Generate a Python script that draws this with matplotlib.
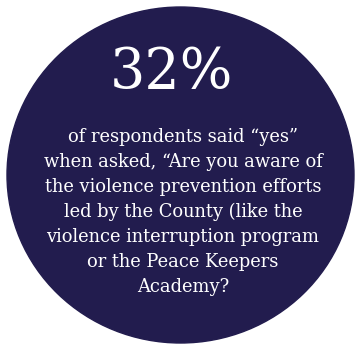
import matplotlib
matplotlib.use("Agg")
import matplotlib.pyplot as plt
from matplotlib.patches import Ellipse

stat_value = "32%"
body_lines = [
    "of respondents said \u201cyes\u201d",
    "when asked, \u201cAre you aware of",
    "the violence prevention efforts",
    "led by the County (like the",
    "violence interruption program",
    "or the Peace Keepers",
    "Academy?",
]

navy = "#221c4e"

fig = plt.figure(figsize=(3.57, 3.5), dpi=100)
ax = fig.add_axes([0, 0, 1, 1])
ax.set_xlim(0, 357)
ax.set_ylim(350, 0)
ax.axis("off")

ax.add_patch(Ellipse((180.5, 175), 347, 336, color=navy))

ax.text(172, 73, stat_value, color="white", fontsize=40, family="DejaVu Serif",
        ha="center", va="center")

y0, step = 137, 25
for i, line in enumerate(body_lines):
    ax.text(183, y0 + i * step, line, color="white", fontsize=12.9,
            family="DejaVu Serif", ha="center", va="center")

fig.savefig("out.png", dpi=100)
